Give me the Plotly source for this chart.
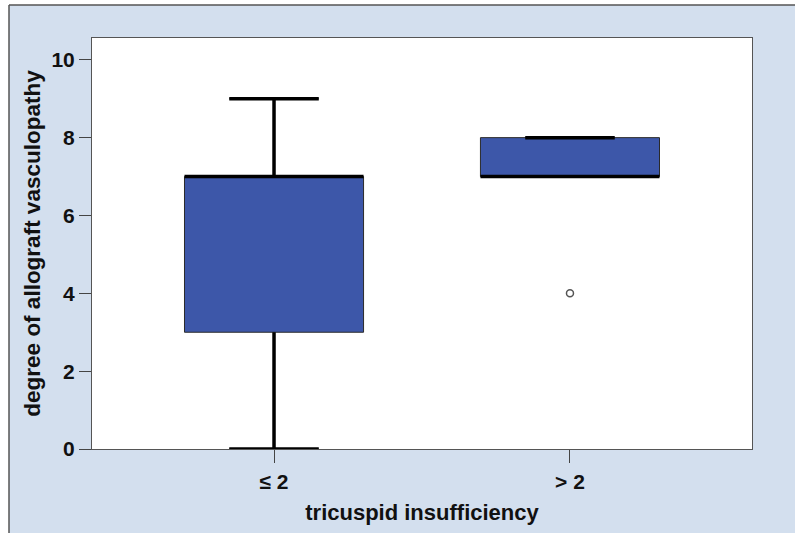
import plotly.graph_objects as go

# ---- data ----
categories = ["≤ 2", "> 2"]
positions = [0, 1]
q1 = [3, 7]
median = [7, 7]
q3 = [7, 8]
lower_whisker = [0, 7]
upper_whisker = [9, 8]
outlier_x = [1]
outlier_y = [4]
y_ticks = [0, 2, 4, 6, 8, 10]

# ---- style ----
BOX_W = 0.605
CAP_FRAC = 0.5
BLUE = "#3d57a9"
BG = "#d3dfee"
FONT = "Liberation Sans, Arial, sans-serif"

fig = go.Figure()

fig.add_trace(go.Box(
    x=positions, q1=q1, median=median, q3=q3,
    lowerfence=lower_whisker, upperfence=upper_whisker,
    width=BOX_W, whiskerwidth=CAP_FRAC,
    fillcolor=BLUE, line=dict(color="#2a2a2a", width=1),
    boxpoints=False, showlegend=False, hoverinfo="skip",
))

# thick whiskers, caps and medians
xs, ys = [], []
for p, a, m, b, lo, hi in zip(positions, q1, median, q3, lower_whisker, upper_whisker):
    half = BOX_W / 2
    cap = BOX_W * CAP_FRAC / 2
    xs += [p - half, p + half, None]
    ys += [m, m, None]
    if hi > b:
        xs += [p, p, None, p - cap, p + cap, None]
        ys += [b, hi, None, hi, hi, None]
    elif hi == b:
        xs += [p - cap, p + cap, None]
        ys += [hi, hi, None]
    if lo < a:
        xs += [p, p, None, p - cap, p + cap, None]
        ys += [a, lo, None, lo, lo, None]

fig.add_trace(go.Scatter(
    x=xs, y=ys, mode="lines", line=dict(color="black", width=3.5),
    showlegend=False, hoverinfo="skip", cliponaxis=False,
))

fig.add_trace(go.Scatter(
    x=outlier_x, y=outlier_y, mode="markers",
    marker=dict(symbol="circle-open", size=7, color="#555555", line=dict(width=1.5)),
    showlegend=False, hoverinfo="skip",
))

# white page strips outside the light-blue panel, and the panel's dark edge
def px_x(v):
    return (v - 92) / 660

def px_y(v):
    return (449 - v) / 411

fig.add_shape(type="rect", xref="paper", yref="paper",
              x0=px_x(-10), x1=px_x(9), y0=px_y(545), y1=px_y(-10),
              fillcolor="white", line=dict(width=0), layer="below")
fig.add_shape(type="rect", xref="paper", yref="paper",
              x0=px_x(-10), x1=px_x(805), y0=px_y(5), y1=px_y(-10),
              fillcolor="white", line=dict(width=0), layer="below")
fig.add_shape(type="line", xref="paper", yref="paper",
              x0=px_x(9), x1=px_x(9), y0=px_y(545), y1=px_y(5),
              line=dict(color="#555555", width=1.5))
fig.add_shape(type="line", xref="paper", yref="paper",
              x0=px_x(9), x1=px_x(805), y0=px_y(5), y1=px_y(5),
              line=dict(color="#555555", width=1.5))

fig.update_layout(
    width=795, height=533,
    margin=dict(l=92, r=43, t=38, b=84),
    paper_bgcolor=BG,
    plot_bgcolor="white",
    font=dict(family=FONT, size=21, color="#111111", weight="bold"),
    xaxis=dict(
        range=[-0.615, 1.615],
        tickvals=positions, ticktext=categories,
        ticks="outside", ticklen=13, tickcolor="#444444", tickwidth=1,
        ticklabelstandoff=1,
        showline=True, linecolor="#555555", linewidth=1, mirror=True,
        showgrid=False, zeroline=False,
        title=dict(text="tricuspid insufficiency", standoff=12,
                   font=dict(family=FONT, size=22, weight="bold")),
        tickfont=dict(family=FONT, size=21, weight="bold"),
    ),
    yaxis=dict(
        range=[0, 10.56],
        tickvals=y_ticks,
        ticks="outside", ticklen=12, tickcolor="#444444", tickwidth=1,
        showline=True, linecolor="#555555", linewidth=1, mirror=True,
        showgrid=False, zeroline=False,
        title=dict(text="degree of allograft vasculopathy", standoff=4,
                   font=dict(family=FONT, size=22.5, weight="bold")),
        tickfont=dict(family=FONT, size=21, weight="bold"),
    ),
)

fig.write_html("out.html")
